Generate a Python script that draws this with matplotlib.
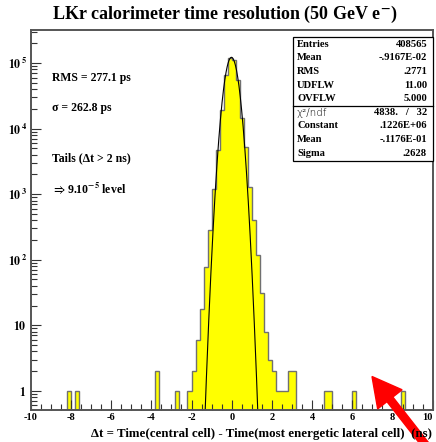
import numpy as np
import matplotlib
matplotlib.use("Agg")
import matplotlib.pyplot as plt
from matplotlib.patches import FancyArrow, Rectangle
from matplotlib.ticker import FixedLocator, FixedFormatter, MultipleLocator, LogLocator, NullFormatter

plt.rcParams['font.family'] = ['Liberation Serif', 'DejaVu Serif']
plt.rcParams['font.weight'] = 'bold'
plt.rcParams['mathtext.fontset'] = 'stix'

# histogram: 100 bins of 0.2 ns from -10 to 10, only non-empty bins listed
bin_centers = [-8.1, -7.7, -3.7, -2.7,
               -2.1, -1.9, -1.7, -1.5, -1.3, -1.1, -0.9, -0.7, -0.5, -0.3, -0.1,
               0.1, 0.3, 0.5, 0.7, 0.9, 1.1, 1.3, 1.5, 1.7, 1.9, 2.1, 2.3, 2.5, 2.7, 2.9, 3.1,
               4.7, 4.9, 6.1, 8.5]
bin_counts = [1, 1, 2, 1,
              1, 2, 6, 18, 77, 285, 1180, 4800, 19000, 66000, 118000,
              113000, 55000, 14500, 5200, 1300, 405, 118, 31, 8, 3, 2, 1, 1, 1, 2, 2,
              1, 1, 1, 1]

# gaussian fit parameters (from stats box)
fit_const = 1.226e5
fit_mean = -0.01176
fit_sigma = 0.2628

stats_top = [("Entries", "408565"), ("Mean", "-.9167E-02"), ("RMS", ".2771"),
             ("UDFLW", "11.00"), ("OVFLW", "5.000")]
stats_fit = [("Constant", ".1226E+06"), ("Mean", "-.1176E-01"), ("Sigma", ".2628")]

W, H = 436, 442
fig = plt.figure(figsize=(W / 100, H / 100), dpi=100)

def fx(px):
    return px / W

def fy(py):
    return 1 - py / H

x0, x1, y0, y1 = 30.7, 432.7, 30, 410
ax = fig.add_axes([fx(x0), fy(y1), fx(x1) - fx(x0), fy(y0) - fy(y1)])

edges = np.linspace(-10, 10, 101)
counts = np.zeros(100)
idx = np.digitize(bin_centers, edges) - 1
counts[idx] = bin_counts

ax.set_yscale('log')
ax.stairs(counts, edges, baseline=0.05, fill=True, color='#ffff00', lw=0)
ax.stairs(counts, edges, baseline=0.05, fill=False, color='#707070', lw=1.0)

xf = np.linspace(-2, 2, 800)
yf = fit_const * np.exp(-0.5 * ((xf - fit_mean) / fit_sigma) ** 2)
ax.plot(xf, yf, color='black', lw=0.8)

ax.set_xlim(-10, 10)
ax.set_ylim(0.51, 3.2e5)

ax.xaxis.set_major_locator(MultipleLocator(2))
ax.xaxis.set_minor_locator(MultipleLocator(0.5))
ax.yaxis.set_major_locator(FixedLocator([1, 10, 1e2, 1e3, 1e4, 1e5]))
ax.yaxis.set_major_formatter(FixedFormatter([r'$\mathbf{1}$', r'$\mathbf{10}$',
                                             r'$\mathbf{10^{\,2}}$', r'$\mathbf{10^{\,3}}$',
                                             r'$\mathbf{10^{\,4}}$', r'$\mathbf{10^{\,5}}$']))
ax.yaxis.set_minor_locator(LogLocator(base=10, subs=np.arange(2, 10)))
ax.yaxis.set_minor_formatter(NullFormatter())
ax.tick_params(which='both', direction='in', top=False, right=False, color='#333333', width=0.8)
ax.tick_params(which='major', length=7)
ax.tick_params(which='minor', length=4)
ax.tick_params(axis='y', labelsize=8.5, pad=3)
ax.set_xticks(np.arange(-10, 11, 2))
ax.set_xticklabels([str(v) for v in range(-10, 11, 2)], fontsize=7.5)
ax.get_xticklabels()[-1].set_ha('right')
ax.tick_params(axis='x', pad=2)
for s in ax.spines.values():
    s.set_color('#555555')
    s.set_linewidth(1.4)

fig.text(fx(225), fy(14), r'LKr calorimeter time resolution (50 GeV e$^{\mathbf{-}}$)',
         ha='center', va='center', fontsize=13)
fig.text(fx(432), fy(434), 'Δt = Time(central cell) - Time(most energetic lateral cell)  (ns)',
         ha='right', va='center', fontsize=9.3)

lx = fx(52)
fig.text(lx, fy(78), 'RMS = 277.1 ps', va='center', fontsize=8.5)
fig.text(lx, fy(108), 'σ = 262.8 ps', va='center', fontsize=8.5)
fig.text(lx, fy(158), 'Tails (Δt > 2 ns)', va='center', fontsize=8.5)
fig.text(lx, fy(188), r'$\Rightarrow$9.10$^{\mathbf{-5}}$ level', va='center', fontsize=8.5)

# stats box
bl, br, bt, bb, bsep = 292.7, 432.7, 36.5, 160.5, 105.5
fig.add_artist(Rectangle((fx(bl), fy(bb)), fx(br) - fx(bl), fy(bt) - fy(bb),
                         transform=fig.transFigure, facecolor='white', edgecolor='black', lw=0.9))
fig.add_artist(plt.Line2D([fx(bl), fx(br)], [fy(bsep), fy(bsep)], transform=fig.transFigure,
                          color='black', lw=0.9))
fs = 7.6
row_y = [44.5, 58, 71.5, 85, 98.5]
for (name, val), yy in zip(stats_top, row_y):
    fig.text(fx(297), fy(yy), name, va='center', fontsize=fs)
    fig.text(fx(427), fy(yy), val, va='center', ha='right', fontsize=fs)
fig.text(fx(297), fy(112.5), 'χ²/ndf', va='center', fontsize=7.4, family='DejaVu Sans',
         weight='light')
fig.text(fx(427), fy(112.5), '4838.   /   32', va='center', ha='right', fontsize=fs)
for (name, val), yy in zip(stats_fit, [126, 139.5, 153]):
    fig.text(fx(297), fy(yy), name, va='center', fontsize=fs)
    fig.text(fx(427), fy(yy), val, va='center', ha='right', fontsize=fs)

# red arrow pointing at the tails
tip = (3.72, (H - 376.5) / 100)
tail = (4.28, -0.06)
arr = FancyArrow(tail[0], tail[1], tip[0] - tail[0], tip[1] - tail[1], width=0.075,
                 head_width=0.31, head_length=0.29, length_includes_head=True,
                 color='#ff0000', transform=fig.dpi_scale_trans, clip_on=False)
fig.add_artist(arr)

fig.savefig('out.png', dpi=100)
